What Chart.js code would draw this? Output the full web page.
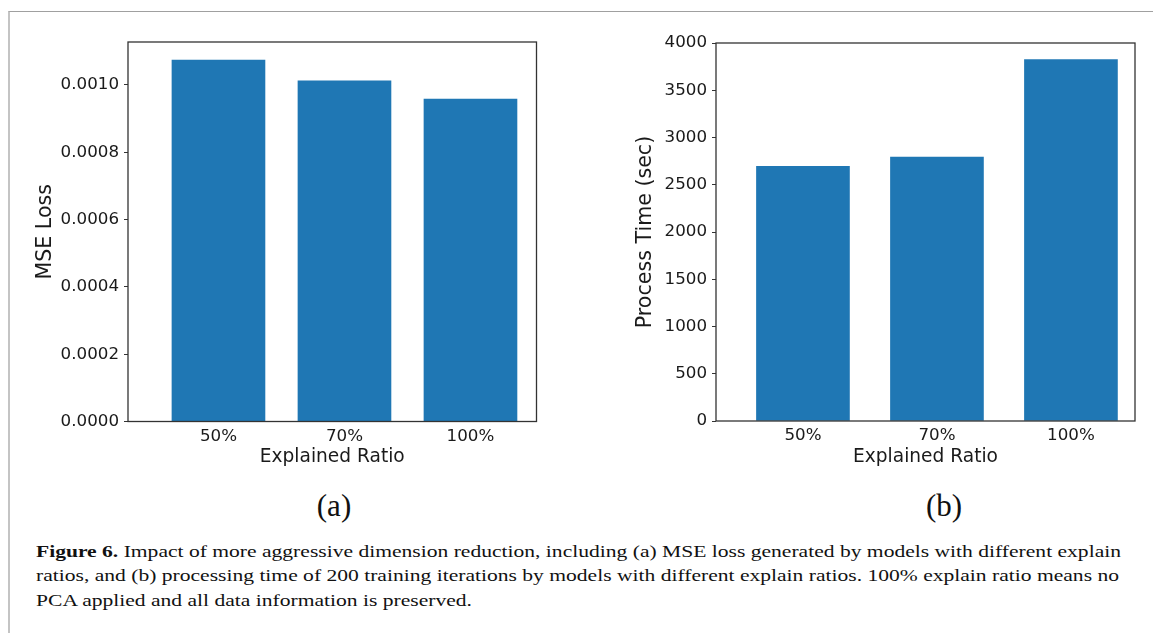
<!DOCTYPE html>
<html>
<head>
<meta charset="utf-8">
<script src="https://cdn.jsdelivr.net/npm/chart.js@4/dist/chart.umd.min.js"></script>
<style>
  html, body { margin: 0; padding: 0; background: #fff; }
  body { width: 1153px; height: 633px; position: relative; overflow: hidden; }
  #frame { position: absolute; left: 8px; top: 11px; width: 1145px; height: 622px;
           border-top: 1px solid #a0a0a0; border-left: 2px solid #c4c4c4; box-sizing: border-box; }
  canvas { position: absolute; top: 0; }
  #chartA { left: 0; }
  #chartB { left: 580px; }
  .sub { position: absolute; top: 486px; font-family: "Liberation Serif", serif; font-size: 31px;
         line-height: 40px; color: #111; transform: translateX(-50%); white-space: nowrap; }
  .cap { position: absolute; left: 36px; font-family: "Liberation Serif", serif; font-size: 16.5px;
         line-height: 24px; white-space: nowrap; transform-origin: 0 0; color: #111; }
</style>
</head>
<body>
<div id="frame"></div>
<canvas id="chartA" width="560" height="480"></canvas>
<canvas id="chartB" width="573" height="480"></canvas>
<div class="sub" style="left:334px">(a)</div>
<div class="sub" style="left:944px">(b)</div>
<div class="cap" id="cap1" style="top:540px"><b>Figure 6.</b> Impact of more aggressive dimension reduction, including (a) MSE loss generated by models with different explain</div>
<div class="cap" id="cap2" style="top:564.3px">ratios, and (b) processing time of 200 training iterations by models with different explain ratios. 100% explain ratio means no</div>
<div class="cap" id="cap3" style="top:588.6px">PCA applied and all data information is preserved.</div>
<script>
// Explained-ratio settings and the measured results for each
const categories = ['50%', '70%', '100%'];
const mseLoss = [0.001074, 0.001012, 0.000958];
const processTime = [2694, 2793, 3824];

const barBlue = '#1f77b4';
const inkColor = '#1a1a1a';
Chart.defaults.font.family = '"DejaVu Sans", sans-serif';
Chart.defaults.color = inkColor;

// Box around the plotting area (all four spines)
const spines = {
  id: 'spines',
  afterDraw(chart) {
    const { ctx, chartArea: a } = chart;
    ctx.save();
    ctx.strokeStyle = '#333';
    ctx.lineWidth = 1.3;
    ctx.strokeRect(a.left, a.top, a.right - a.left, a.bottom - a.top);
    ctx.restore();
  }
};

function barChart(canvasId, values, cfg) {
  return new Chart(document.getElementById(canvasId), {
    type: 'bar',
    data: {
      datasets: [{
        data: values.map((v, i) => ({ x: i, y: v })),
        backgroundColor: barBlue,
        borderWidth: 0,
        barThickness: 93
      }]
    },
    options: {
      animation: false,
      responsive: false,
      maintainAspectRatio: false,
      layout: { padding: { top: cfg.padTop, right: cfg.padRight, left: 0, bottom: 0 } },
      plugins: { legend: { display: false }, tooltip: { enabled: false } },
      scales: {
        x: {
          type: 'linear',
          offset: false,
          min: cfg.xMin,
          max: cfg.xMax,
          grid: { display: false },
          border: { display: false },
          afterBuildTicks: s => { s.ticks = categories.map((c, i) => ({ value: i })); },
          ticks: {
            padding: -3,
            autoSkip: false,
            maxRotation: 0,
            font: { size: 16.7 },
            color: inkColor,
            callback: v => categories[v]
          },
          title: {
            display: true,
            text: 'Explained Ratio',
            font: { size: 18.6 },
            color: inkColor,
            padding: { top: 0, bottom: 12 }
          },
          afterFit: s => { s.height = cfg.xHeight; }
        },
        y: {
          min: 0,
          max: cfg.yMax,
          grid: { drawOnChartArea: false, drawTicks: true, tickLength: 4, color: '#333', tickColor: '#333' },
          border: { display: false },
          ticks: {
            stepSize: cfg.step,
            includeBounds: false,
            padding: 5,
            font: { size: 16.7 },
            color: inkColor,
            callback: cfg.fmt
          },
          title: {
            display: true,
            text: cfg.yTitle,
            font: { size: 20.6 },
            color: inkColor,
            padding: { top: cfg.titlePad, bottom: 0 }
          },
          afterFit: s => { s.width = cfg.yWidth; }
        }
      }
    },
    plugins: [spines]
  });
}

barChart('chartA', mseLoss, {
  padTop: 42, padRight: 23.5, xHeight: 58.5, yWidth: 128,
  xMin: -0.718, xMax: 2.524,
  yMax: 0.0011275, step: 0.0002, fmt: v => v.toFixed(4),
  yTitle: 'MSE Loss', titlePad: 33.5
});

barChart('chartB', processTime, {
  padTop: 43, padRight: 18, xHeight: 59, yWidth: 136,
  xMin: -0.649, xMax: 2.478,
  yMax: 4000, step: 500, fmt: v => String(v),
  yTitle: 'Process Time (sec)', titlePad: 53.5
});

// Caption set to the column width
const cap1 = document.getElementById('cap1');
const k = 1085 / cap1.getBoundingClientRect().width;
['cap1', 'cap2', 'cap3'].forEach(id => {
  document.getElementById(id).style.transform = 'scaleX(' + k + ')';
});
</script>
</body>
</html>
